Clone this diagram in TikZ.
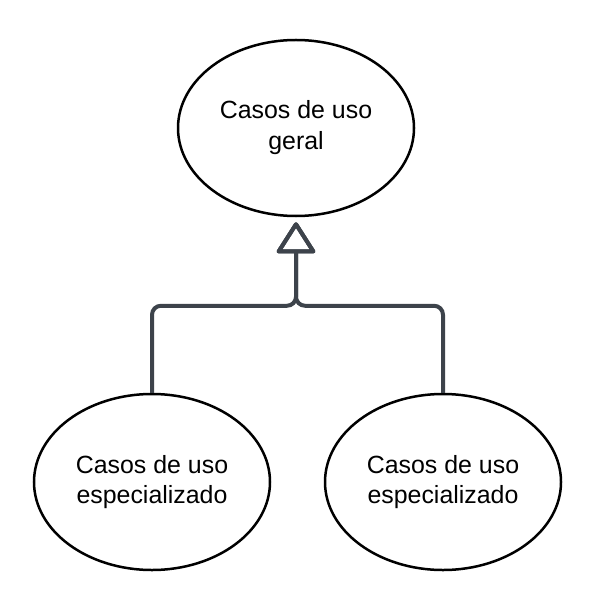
\documentclass[tikz,border=0pt]{standalone}
\usepackage{fontspec}
\setmainfont{Liberation Sans}
\usetikzlibrary{shapes.geometric,arrows.meta}
\definecolor{conncol}{HTML}{3D434B}
\tikzset{
  usecase/.style={draw=black, line width=2.5bp, ellipse, minimum width=236bp, minimum height=176bp, inner sep=0pt, align=center, font=\fontsize{25}{31}\selectfont},
  gen/.style={draw=conncol, line width=4bp, rounded corners=9bp, shorten >=5bp,
    -{Triangle[open, length=33bp, width=41bp, round]}}
}
\begin{document}
\begin{tikzpicture}[x=1bp,y=-1bp]
\useasboundingbox (0,0) rectangle (589,598);
\node[usecase] (top) at (296,128) {Casos de uso\\geral};
\node[usecase] (l) at (152,482) {Casos de uso\\especializado};
\node[usecase] (r) at (443,482) {Casos de uso\\especializado};
\draw[gen] (l.north) -- ++(0,-87) -| (top.south);
\draw[gen] (r.north) -- ++(0,-87) -| (top.south);
\end{tikzpicture}
\end{document}
